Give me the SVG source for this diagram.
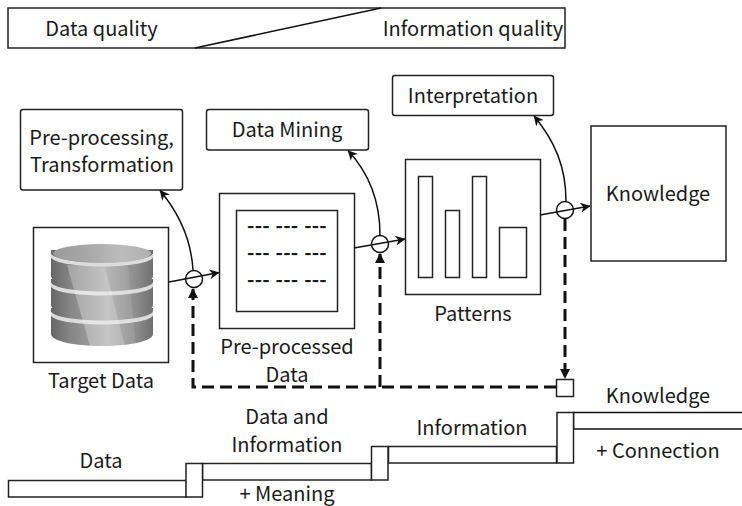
<svg xmlns="http://www.w3.org/2000/svg" width="742" height="506" viewBox="0 0 742 506">
<style>
text{font-family:"Noto Sans CJK SC","Noto Sans",sans-serif;font-size:20px;fill:#1a1a1a;text-anchor:middle}
.dash{font-weight:700;letter-spacing:.2px;word-spacing:1px}
.b{fill:#fff;stroke:#222;stroke-width:1.5}
.f{fill:none;stroke:#111;stroke-width:1.5}
.d{fill:none;stroke:#111;stroke-width:3;stroke-dasharray:12 6}
</style>
<defs>
<marker id="a" viewBox="0 0 10 10" refX="9.5" refY="5" markerWidth="10" markerHeight="10" markerUnits="userSpaceOnUse" orient="auto"><path d="M0 0L10 5L0 10L3 5Z" fill="#111"/></marker>
<linearGradient id="g"><stop offset="0" stop-color="#666"/><stop offset=".18" stop-color="#848484"/><stop offset=".55" stop-color="#aeaeae"/><stop offset=".85" stop-color="#8a8a8a"/><stop offset="1" stop-color="#707070"/></linearGradient>
<linearGradient id="t"><stop offset="0" stop-color="#9a9a9a"/><stop offset=".35" stop-color="#a8a8a8"/><stop offset=".7" stop-color="#bcbcbc"/><stop offset="1" stop-color="#b0b0b0"/></linearGradient>
<g id="disk"><path d="M51 0V26C51 33 74 38 102 38S153 33 153 26V0Z" fill="url(#g)"/><path d="M51 3C51 8 74 12.500 102 12.500S153 8 153 3V7C153 12 130 16.500 102 16.500S51 12 51 7Z" fill="#dcdcdc"/></g>
</defs>

<g id="quality-bar">
<rect class="b" x="8" y="8" width="557" height="40"/>
<path class="f" d="M195 48L381 8"/>
<text x="101.500" y="36">Data quality</text>
<text x="473" y="36">Information quality</text>
</g>

<g id="target-data">
<rect class="b" x="33.500" y="227.500" width="135" height="135"/>
<use href="#disk" y="308"/>
<use href="#disk" y="279"/>
<use href="#disk" y="250"/>
<ellipse cx="102" cy="253.500" rx="49" ry="9.500" fill="url(#t)"/>
<path d="M67 265L105 266.500L125 346H90Z" fill="#fff" fill-opacity=".28"/>
<path d="M105 266.500L128 264L136 345L125 346Z" fill="#fff" fill-opacity=".1"/>
<text x="101" y="388">Target Data</text>
</g>

<g id="pre-processing">
<rect class="b" x="20.500" y="109.500" width="162" height="80.500" rx="2.500"/>
<text x="101.500"><tspan x="101.500" y="145">Pre-processing,</tspan><tspan x="102" y="172">Transformation</tspan></text>
</g>

<g id="pre-processed-data">
<rect class="b" x="219.500" y="193.500" width="135" height="135"/>
<rect class="b" x="236.500" y="210.500" width="101" height="101"/>
<text class="dash" x="287" y="233">--- --- ---</text>
<text class="dash" x="287" y="260">--- --- ---</text>
<text class="dash" x="287" y="287">--- --- ---</text>
<text><tspan x="287" y="354">Pre-processed</tspan><tspan x="287" y="381.500">Data</tspan></text>
</g>

<g id="data-mining">
<rect class="b" x="206.500" y="109.500" width="162" height="40.500" rx="2.500"/>
<text x="287" y="137">Data Mining</text>
</g>

<g id="patterns">
<rect class="b" x="405.500" y="159.500" width="135" height="135"/>
<rect class="b" x="418.500" y="176.500" width="14" height="101"/>
<rect class="b" x="445.500" y="210.500" width="14" height="67"/>
<rect class="b" x="472.500" y="176.500" width="14" height="101"/>
<rect class="b" x="499.500" y="227.500" width="27" height="50"/>
<text x="473" y="321">Patterns</text>
</g>

<g id="interpretation">
<rect class="b" x="392.500" y="75.500" width="161" height="40" rx="2.500"/>
<text x="473" y="103">Interpretation</text>
</g>

<g id="knowledge">
<rect class="b" x="591" y="126" width="135" height="135"/>
<text x="658" y="201">Knowledge</text>
</g>

<g id="stages">
<rect class="b" x="8.500" y="480.500" width="178" height="16.500"/>
<rect class="b" x="202.500" y="463.500" width="169" height="16.500"/>
<rect class="b" x="388.500" y="446.500" width="168" height="16.500"/>
<path class="f" d="M742 412.500H573.500V429H742" style="fill:#fff"/>
<rect class="b" x="186" y="463.500" width="16.500" height="33.500"/>
<rect class="b" x="371.500" y="446.500" width="16.500" height="33.500"/>
<rect class="b" x="557" y="412.500" width="16.500" height="50.500"/>
<text x="101" y="468">Data</text>
<text><tspan x="287" y="424">Data and</tspan><tspan x="287" y="452">Information</tspan></text>
<text x="287" y="501">+ Meaning</text>
<text x="472" y="435">Information</text>
<text x="658" y="403">Knowledge</text>
<text x="658" y="458">+ Connection</text>
</g>

<g id="connectors">
<path class="f" marker-end="url(#a)" d="M169 282L219 272.500"/>
<path class="f" marker-end="url(#a)" d="M354 248L405 239"/>
<path class="f" marker-end="url(#a)" d="M540 215L590 206"/>
<path class="f" marker-end="url(#a)" d="M193 270C191 237 178 212 160 190.500"/>
<path class="f" marker-end="url(#a)" d="M380 235C380 198 368 172 348 150.500"/>
<path class="f" marker-end="url(#a)" d="M566 201C566 166 554 140 534 116"/>
<circle class="f" cx="194" cy="279" r="8.500"/>
<circle class="f" cx="380" cy="244" r="8.500"/>
<circle class="f" cx="565" cy="210" r="8.500"/>
<path class="d" d="M556 387H193V289"/>
<path class="d" d="M380 387V254"/>
<path class="d" d="M565 219V378"/>
<path d="M193 288L188 298H198ZM380 253L375 263H385Z" fill="#111"/>
<path d="M565 379L560 369H570Z" fill="#111"/>
<rect class="b" x="556.500" y="379.500" width="17" height="17"/>
</g>
</svg>
